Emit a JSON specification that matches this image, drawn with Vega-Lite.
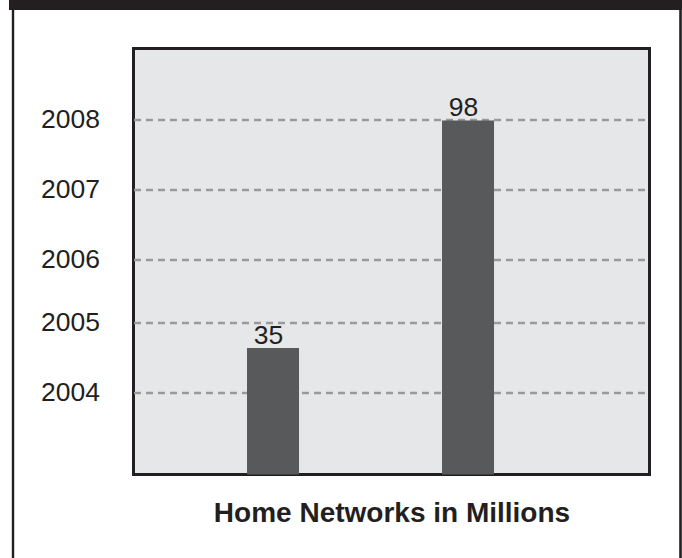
{
  "$schema": "https://vega.github.io/schema/vega-lite/v6.json",
  "width": 516,
  "height": 426,
  "autosize": {"type": "none"},
  "padding": {"left": 133.5, "top": 48.5, "right": 32.5, "bottom": 83.5},
  "background": "#ffffff",
  "config": {
    "view": {"fill": "#e6e7e8", "stroke": "#231f20", "strokeWidth": 3},
    "font": "Liberation Sans"
  },
  "layer": [
    {
      "data": {
        "values": [
          {"period": "2004", "networks": 35},
          {"period": "2008", "networks": 98}
        ]
      },
      "encoding": {
        "x": {
          "field": "period",
          "type": "nominal",
          "scale": {"paddingInner": 0.7333, "paddingOuter": 0.6897, "align": 0.422},
          "axis": {
            "title": "Home Networks in Millions",
            "titleFont": "Liberation Sans",
            "titleFontSize": 28,
            "titleFontWeight": "bold",
            "titleColor": "#231f20",
            "titlePadding": 25,
            "labels": false,
            "ticks": false,
            "domain": false,
            "grid": false
          }
        },
        "y": {
          "field": "networks",
          "type": "quantitative",
          "scale": {"domain": [0, 117.9], "nice": false},
          "axis": {
            "title": null,
            "values": [22.8, 42.1, 59.6, 79.0, 98.3],
            "labelExpr": "datum.value < 30 ? '2004' : datum.value < 50 ? '2005' : datum.value < 70 ? '2006' : datum.value < 90 ? '2007' : '2008'",
            "labelFont": "Liberation Sans",
            "labelFontSize": 26.5,
            "labelColor": "#231f20",
            "labelPadding": 34,
            "ticks": false,
            "domain": false,
            "grid": true,
            "gridColor": "#9a9a9a",
            "gridWidth": 2.4,
            "gridDash": [7, 5]
          }
        }
      },
      "layer": [
        {"mark": {"type": "bar", "color": "#58595b"}},
        {
          "mark": {
            "type": "text",
            "font": "Liberation Sans",
            "fontSize": 26.5,
            "color": "#231f20",
            "baseline": "alphabetic",
            "dy": -4,
            "dx": -4.5
          },
          "encoding": {"text": {"field": "networks", "type": "quantitative"}}
        }
      ]
    },
    {
      "data": {"values": [{}]},
      "layer": [
        {
          "mark": {"type": "rect", "color": "#231f20"},
          "encoding": {
            "x": {"datum": -0.2413, "type": "quantitative", "scale": {"domain": [0, 1]}, "axis": null},
            "x2": {"datum": 1.07},
            "y": {"datum": 1.125, "type": "quantitative", "scale": {"domain": [0, 1]}, "axis": null},
            "y2": {"datum": 1.0904}
          }
        },
        {
          "mark": {"type": "rule", "color": "#231f20", "strokeWidth": 2.4},
          "encoding": {
            "x": {"datum": -0.2335, "type": "quantitative", "scale": {"domain": [0, 1]}, "axis": null},
            "y": {"datum": 1.0904, "type": "quantitative", "scale": {"domain": [0, 1]}, "axis": null},
            "y2": {"datum": -0.2}
          }
        },
        {
          "mark": {"type": "rule", "color": "#231f20", "strokeWidth": 2.6},
          "encoding": {
            "x": {"datum": 1.0601, "type": "quantitative", "scale": {"domain": [0, 1]}, "axis": null},
            "y": {"datum": 1.0904, "type": "quantitative", "scale": {"domain": [0, 1]}, "axis": null},
            "y2": {"datum": -0.2}
          }
        }
      ]
    }
  ],
  "resolve": {"scale": {"x": "independent", "y": "independent"}}
}
